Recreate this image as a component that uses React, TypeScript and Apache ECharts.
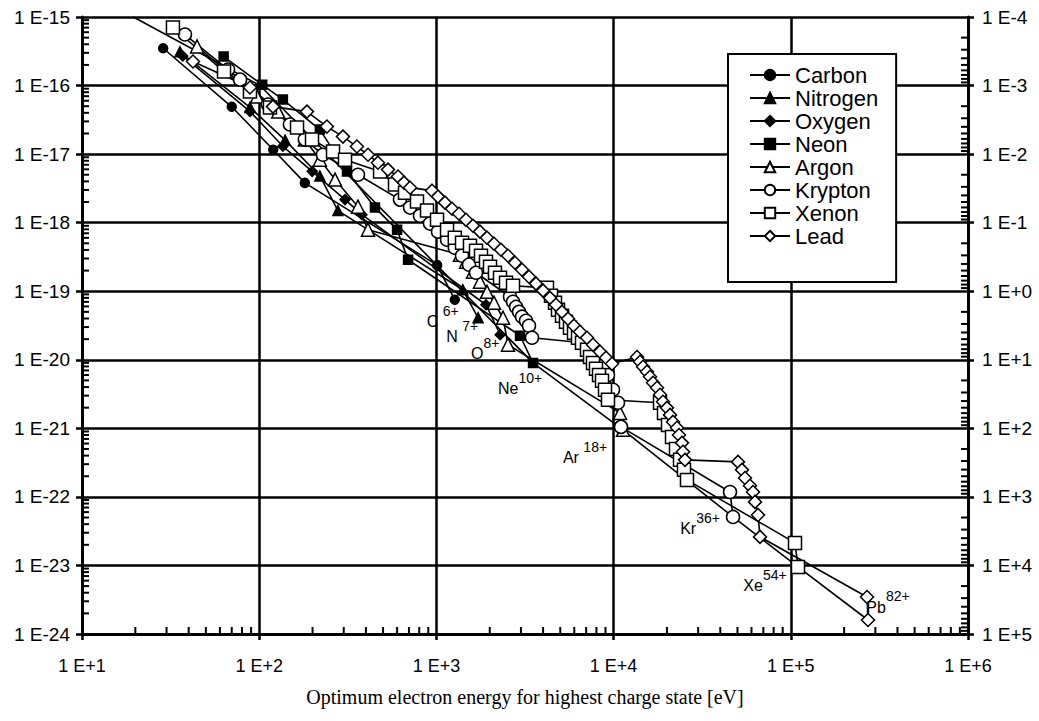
import React, { useEffect, useRef } from 'react';
import * as echarts from 'echarts';

// ---------- data (energy in eV, cross-section in the units of the left axis) ----------
const carbonE = [28.7, 70, 120, 181, 1010, 1270];
const carbonS = [3.5e-16, 4.9e-17, 1.16e-17, 3.8e-18, 2.4e-19, 7.5e-20];

const nitrogenE = [35.7, 88.7, 140, 220, 278, 1410, 1720];
const nitrogenS = [3.1e-16, 4.8e-17, 1.6e-17, 4.8e-18, 1.5e-18, 1.05e-19, 4.1e-20];

const oxygenE = [37, 88.7, 136, 199, 305, 380, 1905, 2290];
const oxygenS = [2.7e-16, 4.2e-17, 1.3e-17, 5.6e-18, 2.17e-18, 1.31e-18, 6.35e-20, 2.32e-20];

const neonE = [63, 104, 136, 220, 313, 450, 600, 692, 2965, 3510];
const neonS = [2.65e-16, 1.03e-16, 6.25e-17, 2.28e-17, 5.56e-18, 1.66e-18, 7.9e-19, 2.88e-19, 2.24e-20, 9.0e-21];

const argonE = [44.6, 97.2, 128, 181, 220, 268, 361, 411, 1359, 1469, 1609, 1762, 1930, 2114, 2377, 2535, 10870, 11300];
const argonS = [3.71e-16, 6.9e-17, 4.17e-17, 1.63e-17, 8.3e-18, 4.25e-18, 1.71e-18, 7.9e-19, 3.41e-19, 2.7e-19, 1.93e-19, 1.38e-19, 9.8e-20, 6.8e-20, 4.1e-20, 1.66e-20, 1.68e-21, 9.5e-22];

const kryptonE = [38.1, 66.7, 78, 112, 149, 181, 229, 361,
  623, 710, 808, 920, 1021, 1148, 1270, 1395, 1528, 1673,
  2602, 2706, 2814, 2926, 3042, 3203, 3331, 3463,
  6718, 7362, 8054, 8712, 9296, 9922, 10588, 11010,
  45390, 47210];
const kryptonS = [5.55e-16, 1.71e-16, 1.22e-16, 5.28e-17, 2.7e-17, 1.63e-17, 9.8e-18, 5.0e-18,
  2.17e-18, 1.66e-18, 1.26e-18, 9.7e-19, 7.4e-19, 5.65e-19, 4.3e-19, 3.3e-19, 2.44e-19, 1.86e-19,
  8.3e-20, 7.0e-20, 5.9e-20, 5.0e-20, 4.25e-20, 3.7e-20, 3.13e-20, 2.1e-20,
  1.77e-20, 1.4e-20, 1.07e-20, 8.2e-21, 6.0e-21, 3.65e-21, 2.36e-21, 1.05e-21,
  1.18e-22, 5.1e-23];

const xenonE = [32.6, 63.3, 88.7, 115, 163.5, 198.6, 261, 305,
  481, 584, 665, 777, 885, 1008, 1148, 1270, 1395, 1547, 1673, 1785, 1905, 2007, 2141, 2286, 2471, 2706,
  4209, 4433, 4670, 4856, 5115, 5387, 5675, 5977, 6297, 6632, 7078, 7362, 7651, 7955, 8274, 8602, 8944, 9296,
  18280, 19250, 20280, 21360, 22500, 23700, 24960, 25950,
  105600, 109800];
const xenonS = [7.03e-16, 1.6e-16, 8.2e-17, 4.77e-17, 2.44e-17, 1.63e-17, 1.09e-17, 8.3e-18,
  5.56e-18, 3.59e-18, 2.74e-18, 2.03e-18, 1.5e-18, 1.1e-18, 7.9e-19, 6.04e-19, 5.1e-19, 4.62e-19, 3.9e-19, 3.3e-19, 2.7e-19, 2.28e-19, 1.86e-19, 1.57e-19, 1.33e-19, 1.2e-19,
  1.12e-19, 8.6e-20, 6.8e-20, 5.37e-20, 4.39e-20, 3.59e-20, 2.93e-20, 2.48e-20, 2.1e-20, 1.77e-20, 1.4e-20, 1.1e-20, 9.0e-21, 7.4e-21, 6.0e-21, 4.94e-21, 3.65e-21, 2.61e-21,
  2.36e-21, 1.68e-21, 1.12e-21, 7.5e-22, 5.0e-22, 3.47e-22, 2.48e-22, 1.77e-22,
  2.13e-23, 9.5e-24];

const leadE = [42.3, 88.7, 119.6, 186, 241, 297, 356, 411, 468, 533, 607, 656, 710,
  945, 1021, 1118, 1225, 1342, 1469, 1609, 1762, 1930, 2114, 2315, 2535, 2777, 3042, 3331, 3648, 3997, 4375, 4732, 5115, 5530, 5977, 6463, 7078, 7651, 8381, 9060, 9795,
  13560, 14090, 14660, 15430, 16050, 16690, 17580, 18280, 19000, 20010, 20810, 21640, 22790, 23390, 24320, 24640, 25290,
  50350, 53040, 55150, 58860, 61190, 62810, 65310, 67030,
  269200, 272700];
const leadS = [2.24e-16, 9.35e-17, 4.93e-17, 4.17e-17, 2.52e-17, 1.8e-17, 1.29e-17, 9.8e-18, 7.5e-18, 5.94e-18, 4.7e-18, 3.84e-18, 3.24e-18,
  2.93e-18, 2.4e-18, 1.96e-18, 1.6e-18, 1.35e-18, 1.1e-18, 9.0e-19, 7.4e-19, 6.04e-19, 4.94e-19, 4.03e-19, 3.3e-19, 2.61e-19, 2.06e-19, 1.63e-19, 1.29e-19, 1.02e-19, 8.0e-20, 6.35e-20, 5.0e-20, 3.97e-20, 3.13e-20, 2.56e-20, 2.1e-20, 1.66e-20, 1.31e-20, 1.07e-20, 8.74e-21,
  1.1e-20, 9.35e-21, 7.9e-21, 6.68e-21, 5.65e-21, 4.62e-21, 3.9e-21, 3.08e-21, 2.44e-21, 1.99e-21, 1.57e-21, 1.24e-21, 1.02e-21, 8.0e-22, 6.14e-22, 4.54e-22, 3.47e-22,
  3.24e-22, 2.48e-22, 1.89e-22, 1.45e-22, 1.18e-22, 8.45e-23, 5.46e-23, 2.61e-23,
  3.47e-24, 1.6e-24];

// curve through the highest charge states
const guideE = [19.5, 101, 3510, 11300, 47210, 109800, 272700];
const guideS = [1e-15, 1e-16, 9.0e-21, 9.5e-22, 5.1e-23, 9.5e-24, 1.6e-24];

const seriesNames = ['Carbon', 'Nitrogen', 'Oxygen', 'Neon', 'Argon', 'Krypton', 'Xenon', 'Lead'];

// Left axis runs 1E-24 .. 1E-15. ECharts' log scale rounds values to 20 decimals,
// so the cross-sections are fed to it multiplied by 1E+24 and the labels are shifted back.
const Y_SHIFT = 24;
const Y_SCALE = 1e24;

// ---------- styling helpers ----------
const SANS = '"Liberation Sans", Arial, Helvetica, sans-serif';
const SERIF = '"Liberation Serif", "Times New Roman", serif';

function expText(e: number): string {
  return '1 E' + (e >= 0 ? '+' : '-') + Math.abs(e);
}
const leftLabel = (v: number) => expText(Math.round(Math.log10(v)) - Y_SHIFT);
const plainLabel = (v: number) => expText(Math.round(Math.log10(v)));

// minor tick values 2..9 x 10^k for k in [k0, k1)
function decadeMinors(k0: number, k1: number): number[] {
  const out: number[] = [];
  for (let k = k0; k < k1; k++) {
    for (let m = 2; m <= 9; m++) out.push(m * Math.pow(10, k));
  }
  return out;
}

type Lab = { el: string; q: string; dx: number; dy: number };

function toData(E: number[], S: number[]): any[] {
  return E.map((e, i) => [e, S[i] * Y_SCALE]);
}

function makeSeries(name: string, E: number[], S: number[], symbol: string, size: number, filled: boolean, lab?: Lab): any {
  const data: any[] = toData(E, S);
  if (lab) {
    const last = data.length - 1;
    data[last] = {
      value: data[last],
      label: {
        show: true,
        position: 'inside',
        offset: [lab.dx, lab.dy],
        formatter: '{a|' + lab.el + '}{b|' + lab.q + '}',
        rich: {
          a: { fontFamily: SANS, fontSize: 16, color: '#000', lineHeight: 26, verticalAlign: 'bottom' },
          b: { fontFamily: SANS, fontSize: 14, color: '#000', lineHeight: 26, verticalAlign: 'top' },
        },
      },
    };
  }
  return {
    name,
    type: 'line',
    xAxisIndex: 0,
    yAxisIndex: 0,
    data,
    symbol,
    symbolSize: size,
    showSymbol: true,
    silent: true,
    lineStyle: { color: '#000', width: 1.6 },
    itemStyle: { color: filled ? '#000' : '#fff', borderColor: '#000', borderWidth: 1.5 },
    emphasis: { disabled: true },
  };
}

export default function App() {
  const ref = useRef<HTMLDivElement>(null);

  useEffect(() => {
    const chart = echarts.init(ref.current!, null, { renderer: 'svg' });

    const yFont = { fontFamily: SANS, fontSize: 19, color: '#000' };
    const xFont = { fontFamily: SANS, fontSize: 18, color: '#000' };

    const option: any = {
      animation: false,
      backgroundColor: '#fff',
      grid: { left: 82, right: 71, top: 17, bottom: 87, containLabel: false },
      legend: {
        data: seriesNames,
        orient: 'vertical',
        left: 728,
        top: 54,
        padding: [10, 18, 35, 21],
        itemGap: 1,
        itemWidth: 40,
        itemHeight: 13,
        selectedMode: false,
        backgroundColor: '#fff',
        borderColor: '#000',
        borderWidth: 2,
        textStyle: { fontFamily: SANS, fontSize: 22, color: '#000', lineHeight: 22 },
      },
      xAxis: [
        {
          type: 'log',
          logBase: 10,
          min: 10,
          max: 1e6,
          splitNumber: 5,
          name: 'Optimum electron energy for highest charge state [eV]',
          nameLocation: 'middle',
          nameGap: 53,
          nameTextStyle: { fontFamily: SERIF, fontSize: 20, color: '#000' },
          axisLine: { show: true, lineStyle: { color: '#000', width: 3 } },
          axisTick: { show: true, inside: false, length: 6, lineStyle: { color: '#000', width: 2.5 } },
          axisLabel: { ...xFont, margin: 23, formatter: plainLabel },
          splitLine: { show: true, lineStyle: { color: '#000', width: 2.5 } },
        },
      ],
      yAxis: [
        {
          type: 'log',
          logBase: 10,
          min: 1,
          max: 1e9,
          splitNumber: 9,
          position: 'left',
          axisLine: { show: true, lineStyle: { color: '#000', width: 3 } },
          axisTick: { show: true, inside: false, length: 6, lineStyle: { color: '#000', width: 2.5 } },
          axisLabel: { ...yFont, margin: 12, formatter: leftLabel },
          splitLine: { show: true, lineStyle: { color: '#000', width: 2.5 } },
        },
        {
          type: 'log',
          logBase: 10,
          min: 1e-4,
          max: 1e5,
          splitNumber: 9,
          inverse: true,
          position: 'right',
          axisLine: { show: true, lineStyle: { color: '#000', width: 3 } },
          axisTick: { show: true, inside: false, length: 6, lineStyle: { color: '#000', width: 2.5 } },
          axisLabel: { ...yFont, margin: 14, formatter: plainLabel },
          splitLine: { show: false },
        },
      ],
      series: [
        {
          name: 'guide',
          type: 'line',
          xAxisIndex: 0,
          yAxisIndex: 0,
          data: toData(guideE, guideS),
          symbol: 'none',
          silent: true,
          lineStyle: { color: '#000', width: 1.6 },
          emphasis: { disabled: true },
        },
        makeSeries('Carbon', carbonE, carbonS, 'circle', 9, true, { el: 'C ', q: '6+', dx: -12, dy: 17 }),
        makeSeries('Nitrogen', nitrogenE, nitrogenS, 'triangle', 10, true, { el: 'N ', q: '7+', dx: -16, dy: 14 }),
        makeSeries('Oxygen', oxygenE, oxygenS, 'diamond', 10, true, { el: 'O', q: '8+', dx: -15, dy: 14 }),
        makeSeries('Neon', neonE, neonS, 'rect', 9, true, { el: 'Ne', q: '10+', dx: -13, dy: 21 }),
        makeSeries('Argon', argonE, argonS, 'triangle', 13, false, { el: 'Ar ', q: '18+', dx: -38, dy: 23 }),
        makeSeries('Krypton', kryptonE, kryptonS, 'circle', 13, false, { el: 'Kr', q: '36+', dx: -33, dy: 7 }),
        makeSeries('Xenon', xenonE, xenonS, 'rect', 13, false, { el: 'Xe', q: '54+', dx: -33, dy: 14 }),
        makeSeries('Lead', leadE, leadS, 'diamond', 13, false, { el: 'Pb', q: '82+', dx: 20, dy: -18 }),
      ],
    };

    chart.setOption(option);

    // minor (2..9) log ticks, positioned through the axes' own scales
    const tickLines: any[] = [];
    const addTick = (p: number[] | null, dx: number, dy: number) => {
      if (!p || !isFinite(p[0]) || !isFinite(p[1])) return;
      tickLines.push({
        type: 'line',
        silent: true,
        z: 10,
        shape: { x1: p[0], y1: p[1], x2: p[0] + dx, y2: p[1] + dy },
        style: { stroke: '#000', lineWidth: 2 },
      });
    };
    try {
      decadeMinors(1, 6).forEach((v) => {
        addTick(chart.convertToPixel({ xAxisIndex: 0, yAxisIndex: 0 } as any, [v, 1]) as any, 0, -7);
      });
      decadeMinors(0, 9).forEach((v) => {
        addTick(chart.convertToPixel({ xAxisIndex: 0, yAxisIndex: 0 } as any, [10, v]) as any, 7, 0);
      });
      decadeMinors(-4, 5).forEach((v) => {
        addTick(chart.convertToPixel({ xAxisIndex: 0, yAxisIndex: 1 } as any, [1e6, v]) as any, -7, 0);
      });
    } catch (e) {
      // ignore
    }
    if (tickLines.length) chart.setOption({ graphic: tickLines });

    return () => chart.dispose();
  }, []);

  return <div ref={ref} style={{ position: 'absolute', left: 0, top: 0, width: 1039, height: 721 }} />;
}
